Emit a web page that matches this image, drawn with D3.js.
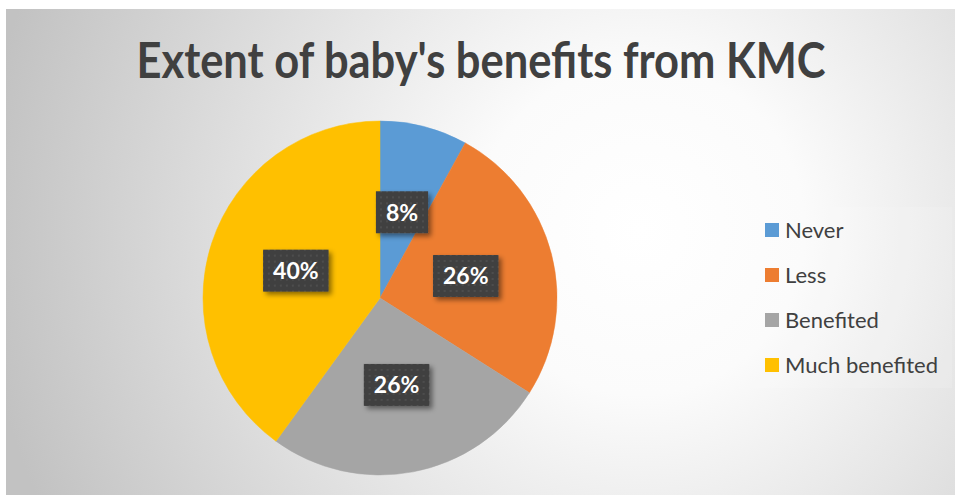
<!DOCTYPE html>
<html>
<head>
<meta charset="utf-8">
<script src="https://cdn.jsdelivr.net/npm/d3@7"></script>
<style>
  body { margin: 0; background: #fff; }
  svg { display: block; font-family: Lato, "Open Sans", sans-serif; }
</style>
</head>
<body>
<div id="chart"></div>
<script>
const title = "Extent of baby's benefits from KMC";
const categories = ['Never', 'Less', 'Benefited', 'Much benefited'];
const values = [8, 26, 26, 40];
const colors = ['#5B9BD5', '#ED7D31', '#A5A5A5', '#FFC000'];

const width = 955, height = 495;
const cx = 380, cy = 298, radius = 177;

const svg = d3.select('#chart').append('svg')
  .attr('width', width).attr('height', height);

const defs = svg.append('defs');

// radial background like the office chart style
const bg = defs.append('radialGradient').attr('id', 'bg')
  .attr('gradientUnits', 'userSpaceOnUse')
  .attr('cx', 640).attr('cy', 230).attr('r', 660);
bg.append('stop').attr('offset', '0%').attr('stop-color', '#ffffff');
bg.append('stop').attr('offset', '25%').attr('stop-color', '#fbfbfb');
bg.append('stop').attr('offset', '100%').attr('stop-color', '#c2c2c2');

// dotted pattern for label boxes
const pat = defs.append('pattern').attr('id', 'dots')
  .attr('patternUnits', 'userSpaceOnUse').attr('width', 6).attr('height', 6);
pat.append('rect').attr('width', 6).attr('height', 6).attr('fill', '#404040');
pat.append('rect').attr('x', 2).attr('y', 2).attr('width', 2).attr('height', 2).attr('fill', '#4d4d4d');

const shadow = defs.append('filter').attr('id', 'shadow')
  .attr('x', '-20%').attr('y', '-20%').attr('width', '150%').attr('height', '160%');
shadow.append('feDropShadow').attr('dx', 3).attr('dy', 3).attr('stdDeviation', 2.5)
  .attr('flood-color', '#000').attr('flood-opacity', 0.45);

svg.append('rect').attr('x', 6).attr('y', 9)
  .attr('width', width - 6).attr('height', height - 9)
  .attr('fill', 'url(#bg)');

// title
svg.append('text')
  .attr('x', 481).attr('y', 78)
  .attr('text-anchor', 'middle')
  .attr('font-size', 49).attr('font-weight', 'bold')
  .attr('fill', '#404040')
  .attr('textLength', 689).attr('lengthAdjust', 'spacingAndGlyphs')
  .text(title);

/* ---
 * Pie slices
 */
const pie = d3.pie().value(d => d).sort(null);
const arc = d3.arc().innerRadius(0).outerRadius(radius);
const labelArc = d3.arc().innerRadius(0).outerRadius(radius);

const g = svg.append('g').attr('transform', `translate(${cx},${cy})`);
const arcs = pie(values);

g.selectAll('path')
  .data(arcs)
  .enter()
  .append('path')
  .attr('d', arc)
  .attr('fill', (d) => colors[d.index])
  .attr('stroke', (d) => colors[d.index])
  .attr('stroke-width', 0.5);

// data labels
const total = d3.sum(values);
const lbl = g.selectAll('g.lbl')
  .data(arcs)
  .enter()
  .append('g')
  .attr('class', 'lbl')
  .attr('transform', d => `translate(${labelArc.centroid(d)})`);

lbl.each(function(d) {
  const el = d3.select(this);
  const t = el.append('text')
    .attr('text-anchor', 'middle')
    .attr('dy', '0.36em')
    .attr('font-size', 23).attr('font-weight', 'bold')
    .attr('fill', '#ffffff')
    .text(Math.round(d.value / total * 100) + '%');
  const w = t.node().getComputedTextLength() + 20;
  el.insert('rect', 'text')
    .attr('x', -w / 2).attr('y', -21)
    .attr('width', w).attr('height', 42)
    .attr('fill', 'url(#dots)')
    .attr('filter', 'url(#shadow)');
});

/* ---
 * Legend
 */
svg.append('rect').attr('x', 752).attr('y', 207)
  .attr('width', 200).attr('height', 181)
  .attr('fill', '#ffffff').attr('fill-opacity', 0.12);

const legendY = d3.scalePoint().domain(categories).range([230, 365]);
const leg = svg.selectAll('g.leg')
  .data(categories)
  .enter()
  .append('g')
  .attr('class', 'leg')
  .attr('transform', d => `translate(765,${legendY(d)})`);

leg.append('rect')
  .attr('x', 0).attr('y', -7).attr('width', 14).attr('height', 14)
  .attr('fill', (d, i) => colors[i]);

leg.append('text')
  .attr('x', 20).attr('dy', '0.36em')
  .attr('font-size', 22)
  .attr('fill', '#404040')
  .text(d => d);
</script>
</body>
</html>
